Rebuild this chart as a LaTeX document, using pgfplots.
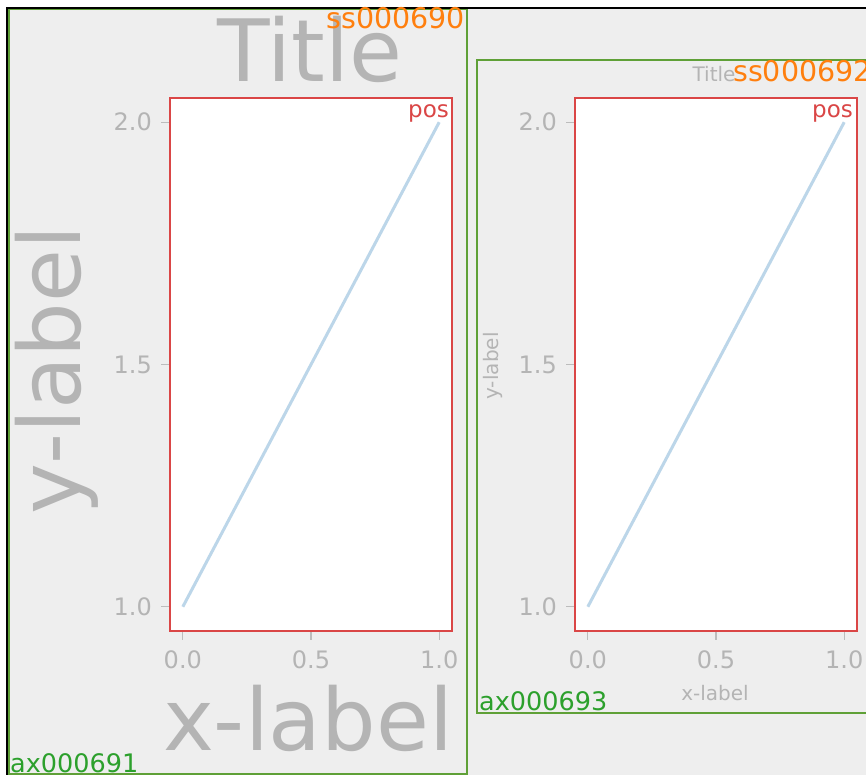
\documentclass[border=0pt]{standalone}
\usepackage{fontspec}
\setmainfont{DejaVu Sans}
\usepackage{pgfplots}
\pgfplotsset{compat=1.18}
\definecolor{bggray}{RGB}{238,238,238}
\definecolor{labgray}{RGB}{180,180,180}
\definecolor{tickgray}{RGB}{188,188,188}
\definecolor{boxgreen}{RGB}{95,160,55}
\definecolor{txtgreen}{RGB}{44,160,44}
\definecolor{myorange}{RGB}{255,127,14}
\definecolor{myred}{RGB}{218,70,70}
\definecolor{lineblue}{RGB}{188,214,233}
\pgfplotsset{
  myax/.style={
    scale only axis, width=282pt, height=533pt, anchor=south west,
    xmin=-0.05, xmax=1.05, ymin=0.95, ymax=2.05,
    axis background/.style={fill=white},
    axis line style={myred, line width=2pt},
    xtick={0,0.5,1}, ytick={1,1.5,2},
    tick align=outside, xtick pos=left, ytick pos=left,
    major tick length=9pt,
    every tick/.style={tickgray, line width=1.2pt},
    ticklabel style={font=\fontsize{24}{28}\selectfont, text=labgray},
    xticklabel style={inner sep=0pt, anchor=north, yshift=-10pt},
    yticklabel style={inner sep=0pt, anchor=east, xshift=-9pt},
    /pgf/number format/.cd, fixed, fixed zerofill, precision=1, assume math mode=true,
  }
}
\begin{document}
\begin{tikzpicture}[x=1pt,y=1pt]
\path[use as bounding box] (0,0) rectangle (866,775);
\clip (0,0) rectangle (866,775);
\fill[white] (0,0) rectangle (866,775);
\fill[bggray] (7,767) rectangle (920,-30);
\draw[boxgreen, line width=2pt] (9,766) rectangle (467,1);
\draw[boxgreen, line width=2pt] (477,715) rectangle (920,62);
\draw[black, line width=2pt] (7,767) rectangle (920,-30);

\begin{axis}[myax, at={(170pt,144pt)}]
\addplot[color=lineblue, line width=3pt] coordinates {(0,1) (1,2)};
\end{axis}
\begin{axis}[myax, at={(575pt,144pt)}]
\addplot[color=lineblue, line width=3pt] coordinates {(0,1) (1,2)};
\end{axis}

% left subfigure texts
\node[anchor=base, inner sep=0pt, text=labgray, font=\fontsize{86}{86}\selectfont] at (310,693) {Title};
\node[anchor=base, inner sep=0pt, rotate=90, text=labgray, font=\fontsize{86}{86}\selectfont] at (80,405) {y-label};
\node[anchor=base, inner sep=0pt, text=labgray, font=\fontsize{86}{86}\selectfont] at (308,24) {x-label};
\node[anchor=base east, inner sep=0pt, text=myorange, font=\fontsize{28.5}{28.5}\selectfont] at (465,746) {ss000690};
\node[anchor=base west, inner sep=0pt, text=txtgreen, font=\fontsize{25.5}{25.5}\selectfont] at (10,2) {ax000691};
\node[anchor=base east, inner sep=0pt, text=myred, font=\fontsize{23}{23}\selectfont] at (449,657) {pos};

% right subfigure texts
\node[anchor=base, inner sep=0pt, text=labgray, font=\fontsize{20}{20}\selectfont] at (714,693) {Title};
\node[anchor=base west, inner sep=0pt, text=myorange, font=\fontsize{28.5}{28.5}\selectfont] at (733,693) {ss000692};
\node[anchor=base, inner sep=0pt, rotate=90, text=labgray, font=\fontsize{20}{20}\selectfont] at (498,409) {y-label};
\node[anchor=base, inner sep=0pt, text=labgray, font=\fontsize{20}{20}\selectfont] at (715,74) {x-label};
\node[anchor=base west, inner sep=0pt, text=txtgreen, font=\fontsize{25.5}{25.5}\selectfont] at (479,64) {ax000693};
\node[anchor=base east, inner sep=0pt, text=myred, font=\fontsize{23}{23}\selectfont] at (853,657) {pos};
\end{tikzpicture}
\end{document}
